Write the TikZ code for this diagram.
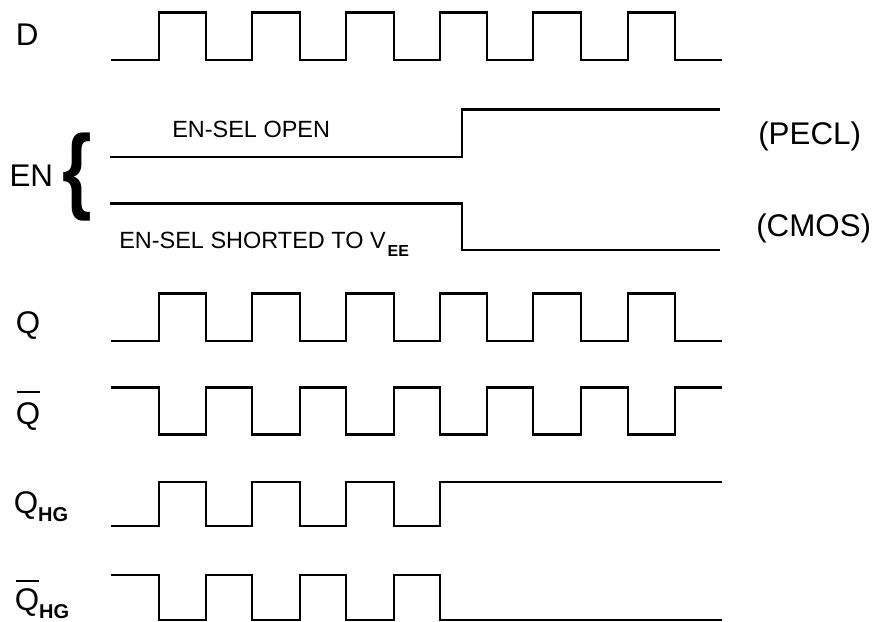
\documentclass[tikz,border=0pt]{standalone}
\usepackage{fontspec}
\setmainfont{Liberation Sans}
\begin{document}
\begin{tikzpicture}[x=0.75pt,y=-0.75pt,
  wave/.style={line width=1.8pt, line join=miter},
  barline/.style={line width=1.6pt},
  big/.style={inner sep=0pt, anchor=base west, font=\fontsize{23.5}{28}\selectfont},
  small/.style={inner sep=0pt, anchor=base west, font=\fontsize{17.6}{21}\selectfont}]
\useasboundingbox (0,0) rectangle (876,622);

% D
\node[big] (d) at (15.5,45.7) {D};
\draw[wave] (111,60) -| (159,12.5) -| (206,60) -| (252,12.5) -| (300,60) -| (346,12.5) -| (394,60)
  -| (440,12.5) -| (487,60) -| (533,12.5) -| (581,60) -| (628,12.5) -| (675,60) -- (722,60);

% EN
\node[big] (en) at (9.3,186) {EN};
\node[inner sep=0pt, font=\fontsize{71}{71}\selectfont\bfseries] (brace) at (77.5,177.5) {\scalebox{0.8}[1]{\{}};
\node[small] (open) at (172,137.3) {EN-SEL OPEN};
\node[small] (short) at (119,248.3) {EN-SEL SHORTED TO V\kern1.5pt\raisebox{-5.8pt}{\fontsize{12}{14}\selectfont\bfseries EE}};
\draw[wave] (110,156.7) -| (462,109.5) -- (720,109.5);
\draw[wave] (110,203.3) -| (462,250) -- (720,250);
\node[big] (pecl) at (758,144.5) {(PECL)};
\node[big] (cmos) at (756,236.5) {(CMOS)};

% Q
\node[big] (q) at (15.5,333) {Q};
\draw[wave] (111,340.7) -| (159,293.3) -| (206,340.7) -| (252,293.3) -| (300,340.7) -| (346,293.3) -| (394,340.7)
  -| (440,293.3) -| (487,340.7) -| (533,293.3) -| (581,340.7) -| (628,293.3) -| (675,340.7) -- (722,340.7);

% Q bar
\node[big] (qb) at (15.5,424) {Q};
\draw[barline] ([shift={(1.2,-32)}]qb.base west) -- ([shift={(0,-32)}]qb.base east);
\draw[wave] (111,387.3) -| (159,434.3) -| (206,387.3) -| (252,434.3) -| (300,387.3) -| (346,434.3) -| (394,387.3)
  -| (440,434.3) -| (487,387.3) -| (533,434.3) -| (581,387.3) -| (628,434.3) -| (675,387.3) -- (722,387.3);

% Q_HG
\node[big] (qhg) at (13.5,513) {Q\raisebox{-6.3pt}{\fontsize{15}{18}\selectfont\bfseries HG}};
\draw[wave] (111,525.7) -| (159,481.7) -| (206,525.7) -| (252,481.7) -| (300,525.7) -| (346,481.7) -| (394,525.7)
  -| (440,481.7) -- (722,481.7);

% Q_HG bar
\node[big] (qbhg) at (14.5,610) {Q\raisebox{-6.3pt}{\fontsize{15}{18}\selectfont\bfseries HG}};
\draw[barline] ([shift={(1.5,-29)}]qbhg.base west) -- ([shift={(24,-29)}]qbhg.base west);
\draw[wave] (111,575) -| (159,620) -| (206,575) -| (252,620) -| (300,575) -| (346,620) -| (394,575)
  -| (440,620) -- (722,620);
\end{tikzpicture}
\end{document}
